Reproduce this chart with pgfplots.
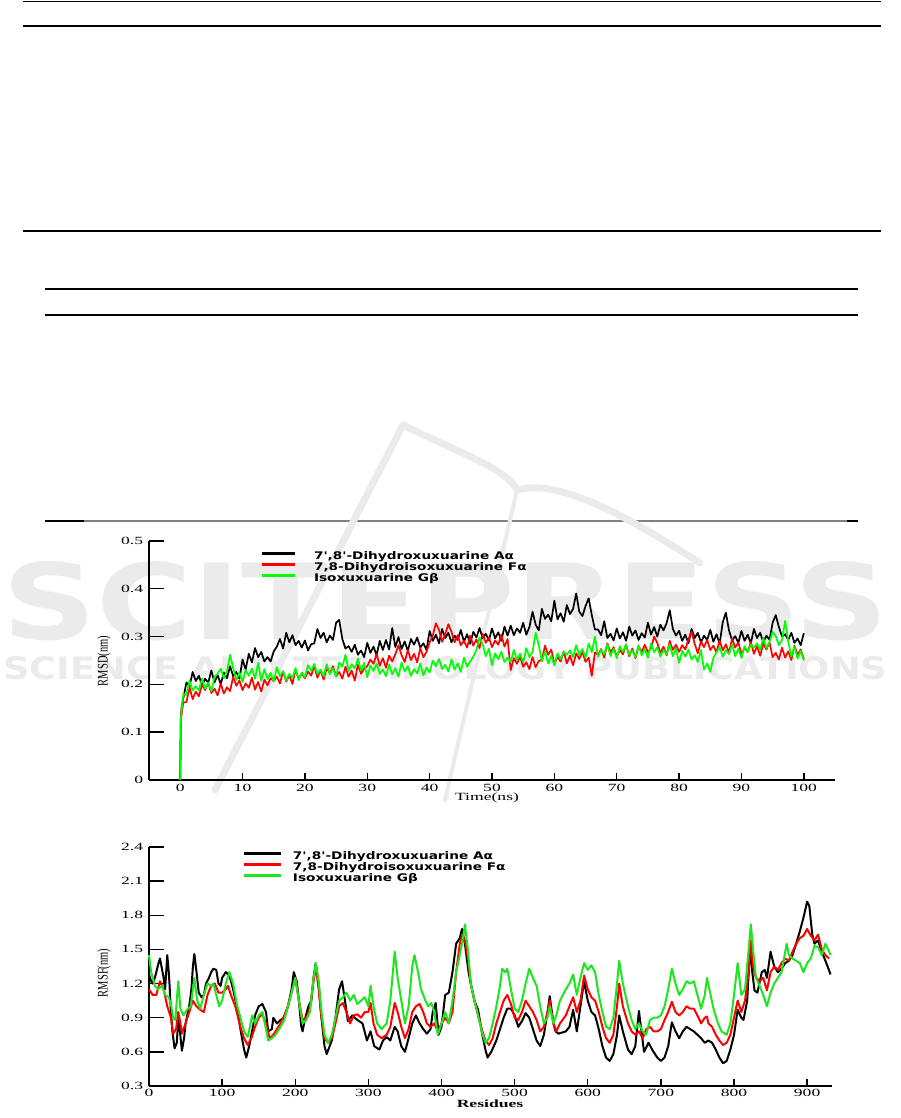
\documentclass[border=0pt]{standalone}
\usepackage{fontspec}
\usepackage{graphicx}
\usepackage{pgfplots}
\pgfplotsset{compat=1.18}
\usepackage{pgfplotstable}

\newfontfamily\tickfont[FakeStretch=1.6]{Liberation Serif}
\newfontfamily\labfont{Liberation Serif}
\newfontfamily\legfont[FakeStretch=1.3]{DejaVu Sans}
\newfontfamily\wmfont{DejaVu Sans}

\definecolor{cA}{RGB}{0,0,0}
\definecolor{cF}{RGB}{255,0,0}
\definecolor{cG}{RGB}{0,255,0}
\definecolor{cG2}{RGB}{30,230,30}
\definecolor{wmgray}{RGB}{235,235,235}

% RMSD over 100 ns (nm)
\pgfplotstableread{
t A F G
0 0 0 0
0.1 0.130 0.120 0.125
0.25 0.155 0.140 0.150
0.5 0.171 0.162 0.180
1 0.204 0.163 0.178
1.5 0.196 0.194 0.208
2 0.226 0.169 0.187
2.5 0.207 0.185 0.196
3 0.218 0.175 0.187
3.5 0.198 0.200 0.212
4 0.212 0.188 0.191
4.5 0.203 0.203 0.204
5 0.229 0.182 0.186
5.5 0.204 0.191 0.216
6 0.220 0.177 0.222
6.5 0.200 0.202 0.233
7 0.225 0.181 0.213
7.5 0.213 0.194 0.227
8 0.238 0.186 0.262
8.5 0.217 0.216 0.234
9 0.226 0.197 0.209
9.5 0.212 0.208 0.225
10 0.252 0.188 0.205
10.5 0.231 0.202 0.230
11 0.264 0.193 0.218
11.5 0.246 0.214 0.233
12 0.276 0.189 0.212
12.5 0.257 0.205 0.245
13 0.268 0.185 0.207
13.5 0.248 0.210 0.232
14 0.257 0.198 0.211
14.5 0.248 0.213 0.224
15 0.269 0.207 0.206
15.5 0.279 0.216 0.236
16 0.295 0.202 0.217
16.5 0.275 0.227 0.228
17 0.308 0.206 0.208
17.5 0.288 0.219 0.222
18 0.303 0.201 0.213
18.5 0.282 0.231 0.234
19 0.291 0.212 0.209
19.5 0.277 0.223 0.225
20 0.292 0.213 0.215
20.5 0.271 0.227 0.240
21 0.284 0.218 0.228
21.5 0.286 0.239 0.243
22 0.316 0.214 0.222
22.5 0.297 0.230 0.231
23 0.308 0.210 0.217
23.5 0.288 0.235 0.242
24 0.302 0.223 0.221
24.5 0.293 0.238 0.234
25 0.329 0.217 0.216
25.5 0.335 0.226 0.246
26 0.295 0.212 0.237
26.5 0.275 0.237 0.262
27 0.280 0.216 0.228
27.5 0.268 0.229 0.242
28 0.283 0.208 0.233
28.5 0.262 0.241 0.254
29 0.271 0.222 0.229
29.5 0.257 0.233 0.245
30 0.287 0.238 0.215
30.5 0.266 0.252 0.240
31 0.279 0.243 0.228
31.5 0.261 0.264 0.243
32 0.291 0.239 0.222
32.5 0.272 0.255 0.231
33 0.293 0.235 0.217
33.5 0.273 0.260 0.242
34 0.318 0.248 0.221
34.5 0.278 0.263 0.234
35 0.299 0.282 0.216
35.5 0.274 0.261 0.246
36 0.290 0.247 0.227
36.5 0.270 0.272 0.238
37 0.295 0.251 0.218
37.5 0.283 0.264 0.232
38 0.298 0.246 0.223
38.5 0.277 0.276 0.244
39 0.286 0.257 0.219
39.5 0.272 0.268 0.235
40 0.312 0.288 0.225
40.5 0.291 0.302 0.250
41 0.304 0.328 0.238
41.5 0.286 0.314 0.253
42 0.316 0.289 0.232
42.5 0.297 0.305 0.241
43 0.308 0.326 0.227
43.5 0.288 0.310 0.252
44 0.302 0.288 0.231
44.5 0.293 0.303 0.244
45 0.314 0.282 0.226
45.5 0.289 0.291 0.256
46 0.305 0.277 0.237
46.5 0.285 0.302 0.248
47 0.310 0.281 0.258
47.5 0.298 0.294 0.272
48 0.318 0.276 0.298
48.5 0.297 0.306 0.284
49 0.306 0.287 0.259
49.5 0.292 0.298 0.275
50 0.317 0.278 0.240
50.5 0.296 0.292 0.265
51 0.309 0.283 0.253
51.5 0.291 0.304 0.268
52 0.321 0.279 0.247
52.5 0.302 0.295 0.256
53 0.323 0.230 0.247
53.5 0.303 0.255 0.272
54 0.317 0.243 0.251
54.5 0.308 0.258 0.264
55 0.329 0.237 0.246
55.5 0.304 0.246 0.276
56 0.320 0.232 0.257
56.5 0.352 0.257 0.268
57 0.325 0.236 0.308
57.5 0.313 0.249 0.282
58 0.358 0.251 0.248
58.5 0.337 0.281 0.269
59 0.346 0.262 0.244
59.5 0.332 0.273 0.260
60 0.375 0.243 0.240
60.5 0.336 0.257 0.265
61 0.349 0.248 0.253
61.5 0.331 0.269 0.268
62 0.366 0.244 0.262
62.5 0.347 0.260 0.271
63 0.358 0.240 0.257
63.5 0.390 0.265 0.282
64 0.352 0.253 0.261
64.5 0.343 0.268 0.274
65 0.364 0.247 0.256
65.5 0.380 0.256 0.286
66 0.345 0.218 0.267
66.5 0.315 0.267 0.300
67 0.315 0.261 0.258
67.5 0.303 0.274 0.272
68 0.332 0.256 0.263
68.5 0.297 0.286 0.284
69 0.306 0.267 0.259
69.5 0.292 0.278 0.275
70 0.317 0.258 0.255
70.5 0.296 0.272 0.280
71 0.309 0.263 0.268
71.5 0.291 0.284 0.283
72 0.321 0.259 0.262
72.5 0.302 0.275 0.271
73 0.313 0.255 0.257
73.5 0.293 0.280 0.282
74 0.307 0.268 0.261
74.5 0.298 0.283 0.274
75 0.329 0.267 0.256
75.5 0.304 0.276 0.286
76 0.320 0.300 0.267
76.5 0.300 0.287 0.278
77 0.325 0.266 0.258
77.5 0.313 0.279 0.272
78 0.328 0.261 0.263
78.5 0.355 0.291 0.284
79 0.316 0.272 0.259
79.5 0.302 0.283 0.275
80 0.312 0.268 0.245
80.5 0.291 0.282 0.270
81 0.304 0.273 0.258
81.5 0.286 0.294 0.273
82 0.316 0.310 0.252
82.5 0.297 0.285 0.261
83 0.308 0.265 0.247
83.5 0.288 0.290 0.272
84 0.302 0.278 0.231
84.5 0.293 0.293 0.244
85 0.314 0.272 0.226
85.5 0.289 0.281 0.256
86 0.305 0.267 0.267
86.5 0.285 0.292 0.278
87 0.330 0.271 0.258
87.5 0.350 0.284 0.272
88 0.313 0.266 0.263
88.5 0.292 0.296 0.284
89 0.301 0.277 0.259
89.5 0.287 0.288 0.275
90 0.312 0.263 0.255
90.5 0.291 0.277 0.280
91 0.304 0.268 0.268
91.5 0.286 0.289 0.283
92 0.316 0.264 0.277
92.5 0.297 0.280 0.286
93 0.308 0.260 0.272
93.5 0.288 0.285 0.297
94 0.302 0.273 0.276
94.5 0.293 0.288 0.289
95 0.329 0.257 0.310
95.5 0.345 0.266 0.301
96 0.320 0.252 0.282
96.5 0.300 0.277 0.293
97 0.305 0.256 0.333
97.5 0.293 0.269 0.290
98 0.308 0.251 0.258
98.5 0.287 0.281 0.279
99 0.296 0.262 0.254
99.5 0.282 0.273 0.270
100 0.307 0.253 0.250
}\rmsd

\pgfplotsset{
  mdaxis/.style={
    scale only axis,
    axis x line*=bottom,
    axis y line*=left,
    axis line style={line width=1.4pt, black},
    tick align=inside,
    major tick style={line width=1.4pt, black},
    major tick length=7pt,
    minor tick num=0,
    ytick=\empty,
    extra y tick style={major tick length=15pt},
    ticklabel style={font=\tickfont\fontsize{11pt}{13pt}\selectfont},
    /pgf/number format/assume math mode=true,
    yticklabel style={xshift=-2.3pt, /pgf/number format/fixed, /pgf/number format/precision=1},
    clip=false,
    legend cell align=left,
  },
}

\begin{document}
\begin{tikzpicture}
\useasboundingbox (0,0) rectangle (901pt,1118pt);

% table rules
\draw[line width=1.3pt] (23pt,1116.5pt) -- (881pt,1116.5pt);
\draw[line width=1.3pt] (23pt,1092pt) -- (881pt,1092pt);
\draw[line width=1.3pt] (23pt,887pt) -- (881pt,887pt);
\draw[line width=1.3pt] (45pt,829pt) -- (858pt,829pt);
\draw[line width=1.3pt] (45pt,803pt) -- (858pt,803pt);
\draw[line width=1.3pt, black!50] (45pt,597pt) -- (858pt,597pt);
\draw[line width=1.3pt] (45pt,597pt) -- (84pt,597pt);
\draw[line width=1.3pt] (847pt,597pt) -- (858pt,597pt);

% publisher watermark
\begin{scope}[wmgray]
\draw[line width=7pt, line cap=round] (403pt,693pt) -- (215pt,328pt);
\draw[line width=7pt, line cap=round] (403pt,693pt) .. controls (470pt,660pt) and (505pt,650pt) .. (517pt,628pt);
\draw[line width=4pt, line cap=round] (517pt,628pt) -- (445pt,318pt);
\draw[line width=7pt, line cap=round] (517pt,628pt) .. controls (560pt,640pt) and (630pt,600pt) .. (700pt,555pt);
\node[anchor=south west, inner sep=0pt] at (2pt,477pt)
  {\resizebox{886pt}{78pt}{\wmfont\bfseries SCITEPRESS}};
\node[anchor=south west, inner sep=0pt] at (3pt,438pt)
  {\resizebox{884pt}{23pt}{\wmfont\bfseries SCIENCE AND TECHNOLOGY PUBLICATIONS}};
\end{scope}

% RMSD
\begin{axis}[mdaxis,
  at={(149pt,338pt)}, anchor=south west,
  width=686pt, height=239pt,
  xmin=-5, xmax=105, ymin=0, ymax=0.5,
  xtick={0,10,20,30,40,50,60,70,80,90,100},
  extra y ticks={0,0.1,0.2,0.3,0.4,0.5},
  xticklabel style={yshift=-1pt},
  xlabel={Time(ns)},
  xlabel style={at={(axis description cs:0.4927,-0.0753)}, anchor=center,
    font=\tickfont\fontsize{11pt}{13pt}\selectfont},
  ylabel={\scalebox{1}[1.4]{RMSD(nm)}},
  ylabel style={at={(axis description cs:-0.0656,0.498)}, anchor=center,
    font=\labfont\fontsize{10.5pt}{12pt}\selectfont},
  legend style={at={(axis description cs:0.1618,0.956)}, anchor=north west,
    draw=none, fill=none, inner sep=0pt, outer sep=0pt,
    font=\legfont\bfseries\fontsize{10.5pt}{10.5pt}\selectfont,
    nodes={inner sep=0pt, text height=7.5pt, text depth=2pt},
    row sep=1.5pt,
    /tikz/every odd column/.append style={column sep=18pt}},
  legend image code/.code={\draw[#1, line width=3pt] (0pt,3.5pt) -- (33pt,3.5pt);},
]
\addplot[cA, line width=1.7pt, line join=round] table[x=t, y=A] {\rmsd};
\addlegendentry{7',8'-Dihydroxuxuarine Aα}
\addplot[cF, line width=1.7pt, line join=round] table[x=t, y=F] {\rmsd};
\addlegendentry{7,8-Dihydroisoxuxuarine Fα}
\addplot[cG, line width=1.7pt, line join=round] table[x=t, y=G] {\rmsd};
\addlegendentry{Isoxuxuarine Gβ}
\end{axis}

% RMSF
\begin{axis}[mdaxis,
  at={(149pt,32pt)}, anchor=south west,
  width=683pt, height=239pt,
  xmin=0, xmax=934, ymin=0.3, ymax=2.4,
  xtick={0,100,200,300,400,500,600,700,800,900},
  extra y ticks={0.3,0.6,0.9,1.2,1.5,1.8,2.1,2.4},
  xlabel={Residues},
  xlabel style={at={(axis description cs:0.4993,-0.0753)}, anchor=center,
    font=\tickfont\bfseries\fontsize{11pt}{13pt}\selectfont},
  ylabel={\scalebox{1}[1.4]{RMSF(nm)}},
  ylabel style={at={(axis description cs:-0.0659,0.473)}, anchor=center,
    font=\labfont\fontsize{10.5pt}{12pt}\selectfont},
  legend style={at={(axis description cs:0.1376,0.981)}, anchor=north west,
    draw=none, fill=none, inner sep=0pt, outer sep=0pt,
    font=\legfont\bfseries\fontsize{10.5pt}{10.5pt}\selectfont,
    nodes={inner sep=0pt, text height=7.5pt, text depth=2pt},
    row sep=1.5pt,
    /tikz/every odd column/.append style={column sep=10pt}},
  legend image code/.code={\draw[#1, line width=3pt] (0pt,3.5pt) -- (37pt,3.5pt);},
]
\addplot[cA, line width=2pt, line join=round] coordinates {
(0,1.28) (3,1.22) (5,1.20) (8,1.25) (10,1.30) (13,1.38) (15,1.42) (18,1.32) (20,1.25) (22,1.15) (24,1.35) (25,1.45) (27,1.30) (28,1.20) (30,0.95) (32,0.78) (35,0.63) (38,0.68) (40,0.88) (42,0.80) (45,0.61) (48,0.72) (50,0.85) (55,1.0) (58,1.15) (60,1.35) (62,1.46) (65,1.30) (68,1.12) (72,1.08) (75,1.10) (78,1.20) (82,1.25) (85,1.30) (88,1.33) (92,1.32) (95,1.20) (98,1.18) (100,1.25) (105,1.30) (110,1.27) (113,1.20) (115,1.15) (120,1.0) (125,0.80) (130,0.62) (133,0.55) (137,0.65) (140,0.75) (145,0.92) (150,1.0) (155,1.02) (160,0.95) (163,0.78) (168,0.80) (170,0.90) (175,0.85) (180,0.88) (185,0.90) (190,1.0) (195,1.15) (198,1.30) (202,1.22) (205,1.05) (208,0.83) (210,0.78) (213,0.88) (218,1.0) (222,1.05) (225,1.25) (228,1.38) (232,1.20) (235,0.95) (240,0.65) (243,0.58) (247,0.65) (250,0.70) (255,0.90) (260,1.15) (264,1.22) (268,1.05) (272,0.87) (278,0.92) (285,0.88) (292,0.85) (298,0.70) (303,0.78) (308,0.65) (315,0.62) (320,0.70) (325,0.73) (330,0.70) (336,0.82) (340,0.78) (345,0.65) (350,0.60) (355,0.72) (360,0.85) (365,0.92) (370,0.85) (375,0.80) (380,0.76) (385,0.80) (388,0.95) (392,1.03) (396,0.75) (400,0.82) (405,1.10) (410,1.12) (415,1.30) (420,1.55) (425,1.60) (428,1.68) (432,1.55) (437,1.30) (440,1.20) (445,1.05) (450,0.97) (455,0.78) (460,0.62) (463,0.55) (468,0.60) (475,0.70) (480,0.80) (485,0.90) (490,0.98) (495,0.98) (500,0.92) (505,0.82) (510,0.87) (515,0.94) (520,0.90) (525,0.80) (530,0.70) (535,0.65) (540,0.75) (545,0.95) (548,1.09) (553,0.85) (556,0.78) (560,0.76) (570,0.78) (575,0.82) (580,0.97) (585,0.78) (590,1.0) (595,1.22) (600,1.05) (605,0.95) (610,0.92) (615,0.80) (620,0.65) (625,0.55) (630,0.52) (635,0.58) (640,0.75) (643,0.92) (648,0.78) (655,0.62) (660,0.58) (665,0.65) (670,0.96) (673,0.80) (677,0.60) (683,0.68) (688,0.62) (695,0.55) (700,0.52) (705,0.55) (710,0.65) (715,0.86) (720,0.78) (725,0.72) (730,0.78) (735,0.82) (740,0.80) (745,0.78) (750,0.75) (755,0.72) (760,0.68) (765,0.70) (770,0.68) (775,0.62) (780,0.55) (785,0.50) (790,0.52) (795,0.62) (800,0.75) (805,0.97) (810,0.90) (813,0.88) (818,1.05) (822,1.52) (825,1.30) (828,1.14) (832,1.12) (838,1.30) (842,1.32) (845,1.25) (850,1.48) (855,1.35) (860,1.30) (865,1.33) (870,1.38) (875,1.40) (880,1.45) (885,1.55) (890,1.66) (895,1.78) (900,1.92) (903,1.88) (907,1.63) (910,1.55) (915,1.58) (920,1.48) (925,1.40) (928,1.35) (932,1.28)
};
\addlegendentry{7',8'-Dihydroxuxuarine Aα}
\addplot[cF, line width=2pt, line join=round] coordinates {
(0,1.15) (5,1.10) (10,1.10) (15,1.22) (20,1.15) (25,1.00) (30,0.90) (33,0.76) (37,0.80) (40,0.95) (43,0.85) (45,0.76) (50,0.85) (55,0.95) (60,1.05) (65,1.00) (70,0.97) (75,0.95) (80,1.10) (85,1.18) (90,1.20) (95,1.12) (100,1.12) (105,1.15) (108,1.18) (112,1.10) (118,1.00) (125,0.82) (130,0.72) (135,0.66) (140,0.72) (145,0.82) (150,0.90) (155,0.93) (160,0.85) (165,0.72) (170,0.75) (175,0.80) (180,0.85) (185,0.92) (190,1.00) (195,1.12) (200,1.25) (205,1.05) (210,0.88) (215,0.90) (220,0.98) (225,1.22) (228,1.35) (232,1.15) (236,0.90) (240,0.72) (245,0.68) (250,0.72) (255,0.85) (260,1.00) (265,1.03) (270,0.95) (275,0.85) (280,0.92) (285,0.93) (290,0.90) (295,0.95) (300,0.95) (303,1.03) (307,0.85) (312,0.75) (318,0.72) (325,0.75) (330,0.82) (336,1.03) (340,0.95) (345,0.82) (350,0.72) (355,0.80) (360,0.95) (365,1.00) (370,1.02) (375,0.95) (380,0.85) (385,0.82) (390,0.85) (395,0.78) (400,0.85) (405,0.90) (410,0.85) (415,0.95) (420,1.30) (425,1.55) (428,1.62) (432,1.58) (437,1.40) (440,1.20) (445,1.05) (450,0.92) (455,0.80) (460,0.70) (465,0.66) (470,0.72) (475,0.85) (480,0.95) (485,1.05) (490,1.10) (495,1.02) (500,0.90) (505,0.88) (510,0.95) (515,1.05) (520,1.00) (525,0.95) (530,0.88) (535,0.78) (540,0.82) (545,0.95) (548,1.05) (553,0.85) (557,0.78) (562,0.85) (570,0.92) (575,1.00) (580,1.08) (585,0.95) (590,1.05) (595,1.27) (600,1.15) (605,1.08) (610,1.05) (615,0.95) (620,0.82) (625,0.72) (630,0.68) (635,0.75) (640,1.00) (643,1.20) (648,1.00) (655,0.85) (660,0.78) (665,0.75) (670,0.78) (675,0.72) (680,0.80) (685,0.82) (690,0.78) (695,0.78) (700,0.80) (705,0.88) (710,0.95) (715,1.04) (720,0.95) (725,0.92) (730,0.95) (735,1.00) (740,0.98) (745,0.98) (750,0.92) (755,0.85) (760,0.90) (763,0.91) (765,0.85) (770,0.82) (775,0.75) (780,0.70) (785,0.66) (790,0.68) (795,0.75) (800,0.90) (805,1.05) (810,0.95) (815,1.05) (820,1.30) (823,1.58) (826,1.35) (830,1.25) (835,1.22) (840,1.25) (845,1.14) (850,1.30) (855,1.35) (860,1.32) (865,1.38) (870,1.42) (875,1.40) (880,1.48) (885,1.55) (890,1.60) (895,1.62) (900,1.68) (905,1.62) (910,1.58) (915,1.63) (920,1.50) (925,1.45) (930,1.42)
};
\addlegendentry{7,8-Dihydroisoxuxuarine Fα}
\addplot[cG2, line width=2pt, line join=round] coordinates {
(0,1.45) (3,1.30) (8,1.18) (12,1.15) (18,1.18) (22,1.10) (27,1.08) (30,1.02) (33,0.90) (36,0.88) (40,1.22) (43,0.98) (47,0.92) (52,0.97) (57,1.00) (60,1.15) (62,1.25) (66,1.05) (70,0.98) (75,1.10) (80,1.20) (85,1.18) (88,1.20) (92,1.10) (96,1.00) (100,1.05) (105,1.20) (110,1.30) (115,1.20) (120,1.02) (125,0.90) (130,0.78) (135,0.73) (138,0.82) (141,0.92) (145,0.85) (150,0.92) (155,0.95) (160,0.80) (163,0.70) (168,0.72) (173,0.75) (178,0.80) (185,0.88) (190,1.00) (195,1.12) (200,1.25) (205,1.05) (210,0.85) (215,0.88) (220,0.95) (225,1.25) (228,1.38) (232,1.22) (236,0.95) (240,0.75) (245,0.68) (250,0.75) (255,0.90) (260,1.05) (265,1.08) (270,1.12) (275,1.05) (280,1.10) (285,1.02) (290,1.05) (295,1.08) (300,1.00) (303,1.18) (307,1.00) (312,0.85) (318,0.80) (325,0.85) (330,1.05) (336,1.48) (340,1.25) (345,1.05) (350,0.85) (355,1.00) (360,1.35) (363,1.45) (368,1.30) (372,1.15) (378,1.05) (382,1.00) (386,1.03) (390,0.95) (395,0.75) (400,0.85) (405,0.95) (410,0.85) (415,1.05) (420,1.30) (425,1.45) (428,1.55) (432,1.72) (436,1.50) (440,1.20) (445,1.05) (450,0.92) (455,0.78) (460,0.68) (465,0.72) (470,0.85) (475,1.00) (480,1.18) (483,1.33) (487,1.30) (490,1.33) (495,1.15) (500,0.98) (505,0.95) (510,1.05) (515,1.20) (520,1.33) (525,1.25) (530,1.18) (535,1.00) (540,0.85) (545,0.90) (548,1.00) (553,0.85) (557,0.92) (562,1.05) (570,1.15) (575,1.20) (580,1.28) (585,1.10) (590,1.25) (595,1.38) (600,1.32) (605,1.36) (610,1.30) (615,1.10) (620,0.95) (625,0.82) (630,0.80) (635,0.90) (640,1.20) (643,1.40) (648,1.20) (655,1.00) (660,0.88) (665,0.80) (670,0.85) (675,0.78) (680,0.75) (685,0.88) (690,0.90) (695,0.90) (700,0.92) (705,1.00) (710,1.15) (715,1.33) (720,1.20) (725,1.10) (730,1.15) (735,1.22) (740,1.20) (745,1.22) (750,1.10) (755,0.98) (760,1.10) (763,1.25) (768,1.10) (772,0.98) (778,0.85) (783,0.78) (790,0.75) (795,0.85) (800,1.10) (805,1.38) (810,1.10) (815,1.15) (820,1.50) (823,1.72) (826,1.50) (830,1.25) (835,1.18) (840,1.10) (845,1.00) (850,1.12) (855,1.20) (860,1.25) (865,1.30) (872,1.55) (875,1.45) (880,1.42) (885,1.40) (890,1.38) (895,1.30) (900,1.38) (905,1.42) (910,1.53) (915,1.52) (920,1.45) (925,1.55) (930,1.48) (932,1.45)
};
\addlegendentry{Isoxuxuarine Gβ}
\end{axis}
\end{tikzpicture}
\end{document}
